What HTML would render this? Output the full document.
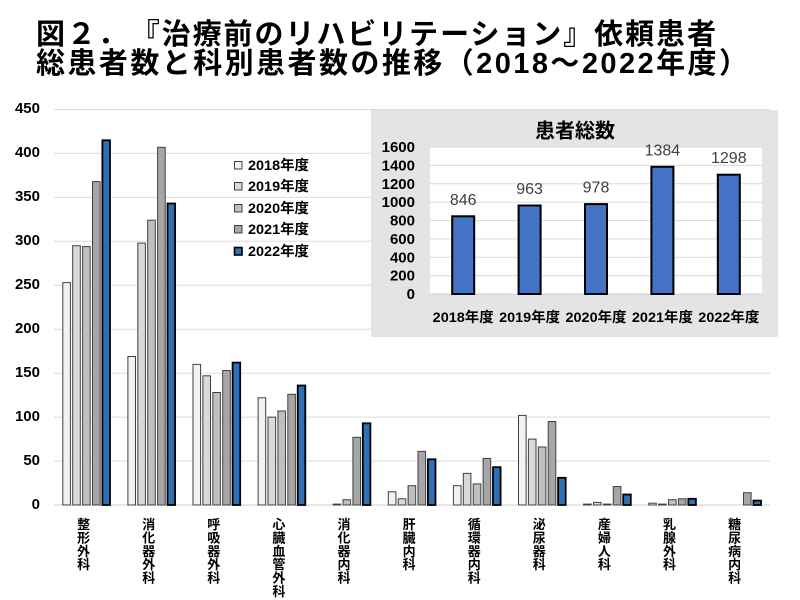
<!DOCTYPE html>
<html><head><meta charset="utf-8">
<style>
html,body{margin:0;padding:0;background:#fff;}
svg{display:block;}
text{font-family:"Liberation Sans","Noto Sans CJK JP",sans-serif;}
</style></head>
<body>
<svg width="800" height="600" viewBox="0 0 800 600" xmlns="http://www.w3.org/2000/svg">
<rect width="800" height="600" fill="#fff"/>
<!-- Title -->
<text x="36" y="44" font-size="29" font-weight="bold" fill="#000" textLength="680" lengthAdjust="spacing">図２．　『治療前のリハビリテーション』依頼患者</text>
<text x="36" y="73" font-size="29" font-weight="bold" fill="#000" textLength="712" lengthAdjust="spacing">総患者数と科別患者数の推移（2018～2022年度）</text>

<!-- Main gridlines -->
<g stroke="#dcdcdc" stroke-width="1">
<line x1="54" x2="770" y1="109.5" y2="109.5"/>
<line x1="54" x2="770" y1="153.4" y2="153.4"/>
<line x1="54" x2="770" y1="197.4" y2="197.4"/>
<line x1="54" x2="770" y1="241.3" y2="241.3"/>
<line x1="54" x2="770" y1="285.3" y2="285.3"/>
<line x1="54" x2="770" y1="329.2" y2="329.2"/>
<line x1="54" x2="770" y1="373.2" y2="373.2"/>
<line x1="54" x2="770" y1="417.1" y2="417.1"/>
<line x1="54" x2="770" y1="461.1" y2="461.1"/>
<line x1="54" x2="770" y1="505" y2="505" stroke="#cfcfcf"/>
</g>

<!-- Main y labels -->
<g font-size="15" font-weight="bold" fill="#000" text-anchor="end">
<text x="40" y="113">450</text>
<text x="40" y="157">400</text>
<text x="40" y="201">350</text>
<text x="40" y="245">300</text>
<text x="40" y="289">250</text>
<text x="40" y="333">200</text>
<text x="40" y="377">150</text>
<text x="40" y="421">100</text>
<text x="40" y="465">50</text>
<text x="40" y="509">0</text>
</g>

<!-- Main bars: 2018 -->
<g fill="#f2f2f2" stroke="#404040" stroke-width="1">
<rect x="62.8" y="282.6" width="7.6" height="222.4"/>
<rect x="127.9" y="356.5" width="7.6" height="148.5"/>
<rect x="193.0" y="364.4" width="7.6" height="140.6"/>
<rect x="258.1" y="397.8" width="7.6" height="107.2"/>
<rect x="388.3" y="491.8" width="7.6" height="13.2"/>
<rect x="453.4" y="485.7" width="7.6" height="19.3"/>
<rect x="518.5" y="415.4" width="7.6" height="89.6"/>
<rect x="583.6" y="504.1" width="7.6" height="0.9"/>
<rect x="648.7" y="503.2" width="7.6" height="1.8"/>
</g>
<!-- 2019 -->
<g fill="#d9d9d9" stroke="#404040" stroke-width="1">
<rect x="72.7" y="245.7" width="7.6" height="259.3"/>
<rect x="137.8" y="243.1" width="7.6" height="261.9"/>
<rect x="202.9" y="375.8" width="7.6" height="129.2"/>
<rect x="268.0" y="417.1" width="7.6" height="87.9"/>
<rect x="333.1" y="504.1" width="7.6" height="0.9"/>
<rect x="398.2" y="498.8" width="7.6" height="6.2"/>
<rect x="463.3" y="473.4" width="7.6" height="31.6"/>
<rect x="528.4" y="439.1" width="7.6" height="65.9"/>
<rect x="593.5" y="502.4" width="7.6" height="2.6"/>
<rect x="658.6" y="504.1" width="7.6" height="0.9"/>
</g>
<!-- 2020 -->
<g fill="#bfbfbf" stroke="#404040" stroke-width="1">
<rect x="82.6" y="246.6" width="7.6" height="258.4"/>
<rect x="147.7" y="220.2" width="7.6" height="284.8"/>
<rect x="212.8" y="392.5" width="7.6" height="112.5"/>
<rect x="277.9" y="411.0" width="7.6" height="94.0"/>
<rect x="343.0" y="499.7" width="7.6" height="5.3"/>
<rect x="408.1" y="485.7" width="7.6" height="19.3"/>
<rect x="473.2" y="483.9" width="7.6" height="21.1"/>
<rect x="538.3" y="447.0" width="7.6" height="58.0"/>
<rect x="603.4" y="504.1" width="7.6" height="0.9"/>
<rect x="668.5" y="499.7" width="7.6" height="5.3"/>
</g>
<!-- 2021 -->
<g fill="#a6a6a6" stroke="#404040" stroke-width="1">
<rect x="92.5" y="181.6" width="7.6" height="323.4"/>
<rect x="157.6" y="147.3" width="7.6" height="357.7"/>
<rect x="222.7" y="370.5" width="7.6" height="134.5"/>
<rect x="287.8" y="394.3" width="7.6" height="110.7"/>
<rect x="352.9" y="437.3" width="7.6" height="67.7"/>
<rect x="418.0" y="451.4" width="7.6" height="53.6"/>
<rect x="483.1" y="458.4" width="7.6" height="46.6"/>
<rect x="548.2" y="421.5" width="7.6" height="83.5"/>
<rect x="613.3" y="486.5" width="7.6" height="18.5"/>
<rect x="678.4" y="498.8" width="7.6" height="6.2"/>
<rect x="743.5" y="492.7" width="7.6" height="12.3"/>
</g>
<!-- 2022 -->
<g fill="#2e6fb6" stroke="#000" stroke-width="1.8">
<rect x="102.4" y="140.3" width="7.6" height="364.7"/>
<rect x="167.5" y="203.5" width="7.6" height="301.5"/>
<rect x="232.6" y="362.6" width="7.6" height="142.4"/>
<rect x="297.7" y="385.5" width="7.6" height="119.5"/>
<rect x="362.8" y="423.3" width="7.6" height="81.7"/>
<rect x="427.9" y="459.3" width="7.6" height="45.7"/>
<rect x="493.0" y="467.2" width="7.6" height="37.8"/>
<rect x="558.1" y="477.8" width="7.6" height="27.2"/>
<rect x="623.2" y="494.5" width="7.6" height="10.5"/>
<rect x="688.3" y="498.8" width="7.6" height="6.2"/>
<rect x="753.4" y="500.6" width="7.6" height="4.4"/>
</g>

<!-- Category labels (vertical) -->
<g font-size="13" font-weight="bold" fill="#000" text-anchor="middle">
<text x="83.6" y="529">整</text><text x="83.6" y="542.4">形</text><text x="83.6" y="555.8">外</text><text x="83.6" y="569.2">科</text>
<text x="148.7" y="529">消</text><text x="148.7" y="542.4">化</text><text x="148.7" y="555.8">器</text><text x="148.7" y="569.2">外</text><text x="148.7" y="582.6">科</text>
<text x="213.8" y="529">呼</text><text x="213.8" y="542.4">吸</text><text x="213.8" y="555.8">器</text><text x="213.8" y="569.2">外</text><text x="213.8" y="582.6">科</text>
<text x="278.9" y="529">心</text><text x="278.9" y="542.4">臓</text><text x="278.9" y="555.8">血</text><text x="278.9" y="569.2">管</text><text x="278.9" y="582.6">外</text><text x="278.9" y="596">科</text>
<text x="344.0" y="529">消</text><text x="344.0" y="542.4">化</text><text x="344.0" y="555.8">器</text><text x="344.0" y="569.2">内</text><text x="344.0" y="582.6">科</text>
<text x="409.1" y="529">肝</text><text x="409.1" y="542.4">臓</text><text x="409.1" y="555.8">内</text><text x="409.1" y="569.2">科</text>
<text x="474.2" y="529">循</text><text x="474.2" y="542.4">環</text><text x="474.2" y="555.8">器</text><text x="474.2" y="569.2">内</text><text x="474.2" y="582.6">科</text>
<text x="539.3" y="529">泌</text><text x="539.3" y="542.4">尿</text><text x="539.3" y="555.8">器</text><text x="539.3" y="569.2">科</text>
<text x="604.4" y="529">産</text><text x="604.4" y="542.4">婦</text><text x="604.4" y="555.8">人</text><text x="604.4" y="569.2">科</text>
<text x="669.5" y="529">乳</text><text x="669.5" y="542.4">腺</text><text x="669.5" y="555.8">外</text><text x="669.5" y="569.2">科</text>
<text x="734.6" y="529">糖</text><text x="734.6" y="542.4">尿</text><text x="734.6" y="555.8">病</text><text x="734.6" y="569.2">内</text><text x="734.6" y="582.6">科</text>
</g>

<!-- Legend -->
<g stroke="#404040" stroke-width="1">
<rect x="234.5" y="161.5" width="7.5" height="7.5" fill="#f2f2f2"/>
<rect x="234.5" y="182.5" width="7.5" height="7.5" fill="#d9d9d9"/>
<rect x="234.5" y="204.5" width="7.5" height="7.5" fill="#bfbfbf"/>
<rect x="234.5" y="225.5" width="7.5" height="7.5" fill="#a6a6a6"/>
<rect x="234.5" y="247.5" width="7.5" height="7.5" fill="#2e6fb6" stroke="#000" stroke-width="1.6"/>
</g>
<g font-size="14" font-weight="bold" fill="#000">
<text x="248" y="170" textLength="61" lengthAdjust="spacingAndGlyphs">2018年度</text>
<text x="248" y="191" textLength="61" lengthAdjust="spacingAndGlyphs">2019年度</text>
<text x="248" y="213" textLength="61" lengthAdjust="spacingAndGlyphs">2020年度</text>
<text x="248" y="234" textLength="61" lengthAdjust="spacingAndGlyphs">2021年度</text>
<text x="248" y="256" textLength="61" lengthAdjust="spacingAndGlyphs">2022年度</text>
</g>

<!-- Inset -->
<rect x="371" y="110" width="407" height="227" fill="#e4e4e4"/>
<rect x="430" y="147" width="332" height="147" fill="#fff"/>
<g stroke="#dadada" stroke-width="1">
<line x1="430" x2="762" y1="147" y2="147"/>
<line x1="430" x2="762" y1="165.4" y2="165.4"/>
<line x1="430" x2="762" y1="183.8" y2="183.8"/>
<line x1="430" x2="762" y1="202.1" y2="202.1"/>
<line x1="430" x2="762" y1="220.5" y2="220.5"/>
<line x1="430" x2="762" y1="238.9" y2="238.9"/>
<line x1="430" x2="762" y1="257.3" y2="257.3"/>
<line x1="430" x2="762" y1="275.6" y2="275.6"/>
<line x1="430" x2="762" y1="294" y2="294" stroke="#cfcfcf"/>
</g>
<text x="575" y="137.5" font-size="20" font-weight="bold" fill="#000" text-anchor="middle">患者総数</text>
<g font-size="15" font-weight="bold" fill="#000" text-anchor="end">
<text x="415" y="152">1600</text>
<text x="415" y="170.4">1400</text>
<text x="415" y="188.8">1200</text>
<text x="415" y="207.1">1000</text>
<text x="415" y="225.5">800</text>
<text x="415" y="243.9">600</text>
<text x="415" y="262.3">400</text>
<text x="415" y="280.6">200</text>
<text x="415" y="299">0</text>
</g>
<g fill="#4472c4" stroke="#000" stroke-width="2">
<rect x="452.2" y="216.3" width="22" height="77.7"/>
<rect x="518.6" y="205.5" width="22" height="88.5"/>
<rect x="585.0" y="204.1" width="22" height="89.9"/>
<rect x="651.4" y="166.8" width="22" height="127.2"/>
<rect x="717.8" y="174.7" width="22" height="119.3"/>
</g>
<g font-size="16" fill="#404040" text-anchor="middle">
<text x="463.2" y="204.8">846</text>
<text x="529.6" y="194">963</text>
<text x="596.0" y="192.6">978</text>
<text x="662.4" y="155.3">1384</text>
<text x="728.8" y="163.2">1298</text>
</g>
<g font-size="14" font-weight="bold" fill="#000" text-anchor="middle">
<text x="463.2" y="322" textLength="61" lengthAdjust="spacingAndGlyphs">2018年度</text>
<text x="529.6" y="322" textLength="61" lengthAdjust="spacingAndGlyphs">2019年度</text>
<text x="596.0" y="322" textLength="61" lengthAdjust="spacingAndGlyphs">2020年度</text>
<text x="662.4" y="322" textLength="61" lengthAdjust="spacingAndGlyphs">2021年度</text>
<text x="728.8" y="322" textLength="61" lengthAdjust="spacingAndGlyphs">2022年度</text>
</g>
</svg>
</body></html>
